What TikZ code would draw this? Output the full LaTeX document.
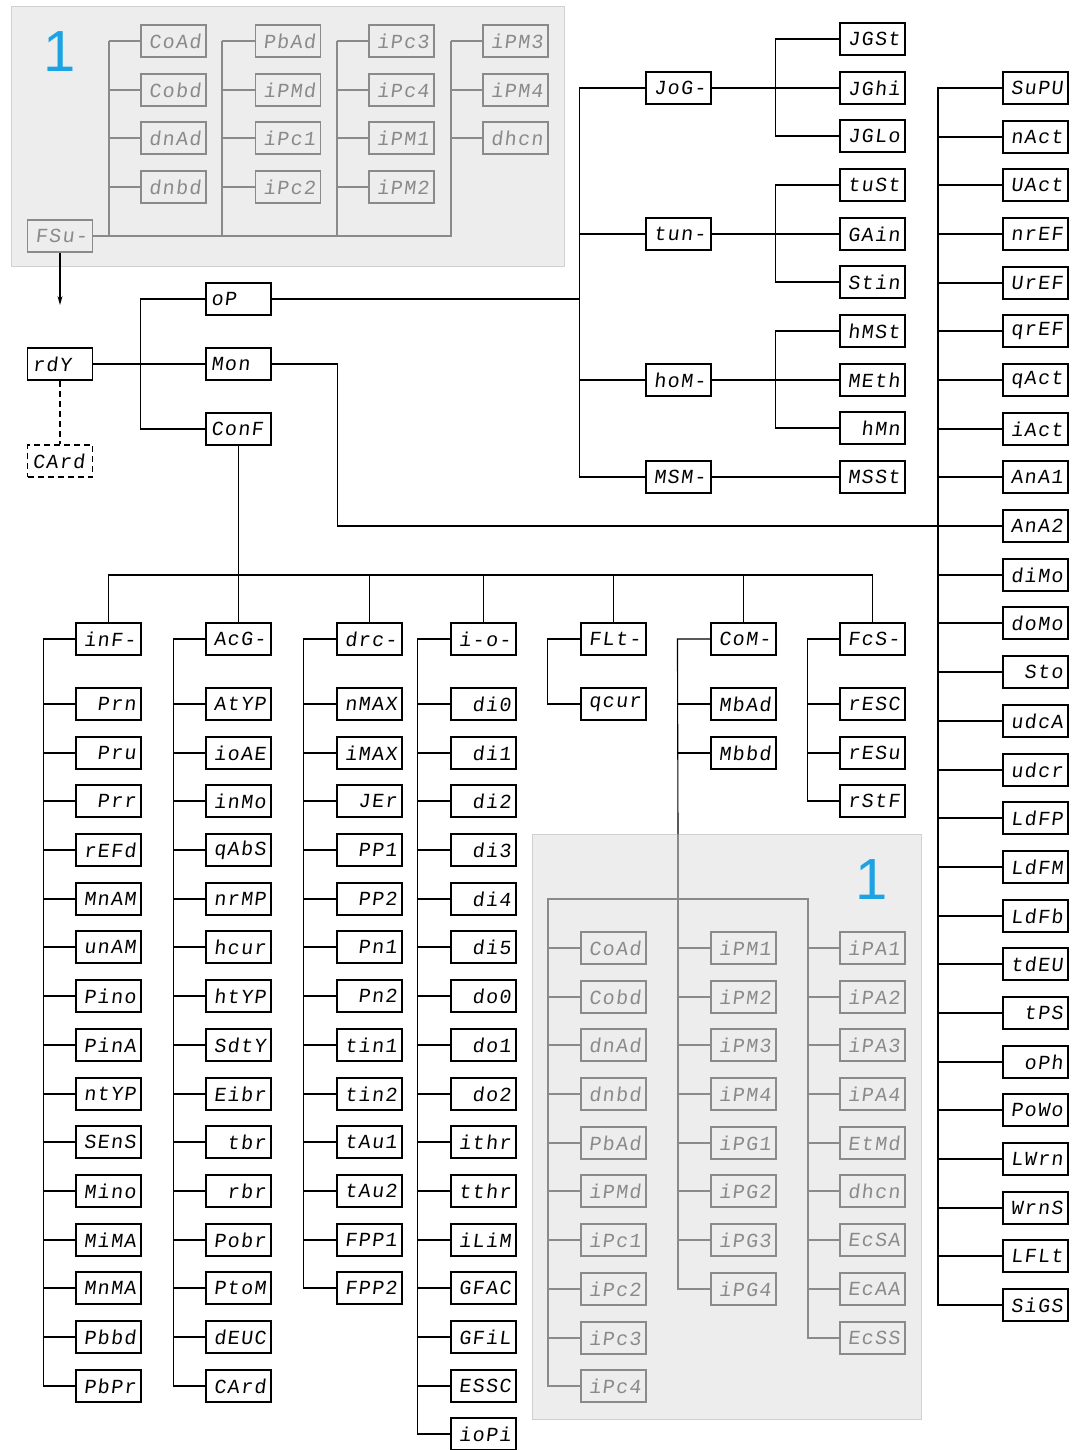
\documentclass[tikz,border=0pt]{standalone}
\usepackage{fontspec}
\newfontfamily\segfont{Liberation Mono}[FakeSlant=0.12,LetterSpace=7]
\newfontfamily\onefont{Liberation Sans}
\usetikzlibrary{arrows.meta}
\definecolor{bgfill}{HTML}{EDEDED}
\definecolor{bgline}{HTML}{D0D0D0}
\definecolor{gline}{HTML}{8A8A8A}
\definecolor{blueone}{HTML}{1BA3E3}
\tikzset{
  seg/.style={draw=black, line width=1.1pt, fill=white, minimum width=65pt, minimum height=32pt,
    inner sep=0pt, text width=55pt, align=right, font=\segfont\fontsize{20}{20}\selectfont},
  segl/.style={seg, align=left},
  gseg/.style={seg, draw=gline, text=gline, fill=bgfill},
  wire/.style={line width=1.1pt, draw=black},
  gwire/.style={line width=1.1pt, draw=gline},
  bigone/.style={text=blueone, inner sep=0pt, font=\onefont\fontsize{58}{58}\selectfont},
  panel/.style={fill=bgfill, draw=bgline, line width=1pt},
  dashline/.style={dash pattern=on 6pt off 4pt}
}
\begin{document}
\begin{tikzpicture}[x=1pt,y=-1pt]
\useasboundingbox (0,0) rectangle (1077,1450);
% grey panels
\path[panel] (11,7) rectangle (564,266);
\path[panel] (532,834) rectangle (921,1419);
\node[bigone] (oneA) at (60,52) {1};
\node[bigone] (oneB) at (872,880) {1};

% ---------- top grey panel ----------
\node[gseg] (fsu) at (60,236) {FSu-};
\coordinate (busA) at (109,236);
\coordinate (busB) at (222,236);
\coordinate (busC) at (337,236);
\coordinate (busD) at (451,236);
\foreach \t [count=\i] in {CoAd,Cobd,dnAd,dnbd}{
  \node[gseg] (ta\i) at (173.5,{round(41+48.6*(\i-1))}) {\t};
  \draw[gwire] (ta\i.west) -- (ta\i.west -| busA);
}
\foreach \t [count=\i] in {PbAd,iPMd,iPc1,iPc2}{
  \node[gseg] (tb\i) at (288,{round(41+48.6*(\i-1))}) {\t};
  \draw[gwire] (tb\i.west) -- (tb\i.west -| busB);
}
\foreach \t [count=\i] in {iPc3,iPc4,iPM1,iPM2}{
  \node[gseg] (tc\i) at (401.5,{round(41+48.6*(\i-1))}) {\t};
  \draw[gwire] (tc\i.west) -- (tc\i.west -| busC);
}
\foreach \t [count=\i] in {iPM3,iPM4,dhcn}{
  \node[gseg] (td\i) at (515.5,{round(41+48.6*(\i-1))}) {\t};
  \draw[gwire] (td\i.west) -- (td\i.west -| busD);
}
\draw[gwire] (fsu.east) -- (busD) -- (td1.west -| busD);
\draw[gwire] (busA) -- (ta1.west -| busA);
\draw[gwire] (busB) -- (tb1.west -| busB);
\draw[gwire] (busC) -- (tc1.west -| busC);

% ---------- rdY and main menu ----------
\node[segl] (rdy) at (60,364) {rdY};
\coordinate (arrtip) at (60,305);
\draw[wire,-{Stealth[length=9pt,width=5pt]}] (fsu.south) -- (arrtip);
\node[segl,dashline] (card) at (60,461) {CArd};
\draw[wire,dashline] (rdy.south) -- (card.north);

\node[segl] (op) at (238.5,299) {oP};
\node[segl] (mon) at (238.5,364) {Mon};
\node[segl] (conf) at (238.5,429) {ConF};
\draw[wire] (rdy.east) -- (mon.west);
\draw[wire] (op.west) -- ++(-65,0) |- (conf.west);

% ---------- oP submenu ----------
\node[seg] (jog) at (678.5,88) {JoG-};
\node[seg] (tun) at (678.5,234) {tun-};
\node[seg] (hom) at (678.5,380) {hoM-};
\node[seg] (msm) at (678.5,477) {MSM-};
\coordinate (opbus) at (580,299);
\draw[wire] (op.east) -- (opbus);
\draw[wire] (jog.west) -- ++(-66,0) |- (msm.west);
\draw[wire] (tun.west) -- (tun.west -| opbus);
\draw[wire] (hom.west) -- (hom.west -| opbus);
\foreach \t [count=\i] in {JGSt,JGhi,JGLo}{
  \node[seg] (jg\i) at (872.5,{round(39+48.68*(\i-1))}) {\t};
}
\foreach \t [count=\i] in {tuSt,GAin,Stin}{
  \node[seg] (tu\i) at (872.5,{round(39+48.68*(\i+2))}) {\t};
}
\foreach \t [count=\i] in {hMSt,MEth,hMn}{
  \node[seg] (hm\i) at (872.5,{round(39+48.68*(\i+5))}) {\t};
}
\draw[wire] (jog.east) -- (jg2.west);
\draw[wire] (jg1.west) -- ++(-64,0) |- (jg3.west);
\draw[wire] (tun.east) -- (tu2.west);
\draw[wire] (tu1.west) -- ++(-64,0) |- (tu3.west);
\draw[wire] (hom.east) -- (hm2.west);
\draw[wire] (hm1.west) -- ++(-64,0) |- (hm3.west);
\node[seg] (mss) at (872.5,477) {MSSt};
\draw[wire] (msm.east) -- (mss.west);

% ---------- Mon submenu (right column) ----------
\foreach \t [count=\i] in {SuPU,nAct,UAct,nrEF,UrEF,qrEF,qAct,iAct,AnA1,AnA2,diMo,doMo,Sto,udcA,udcr,LdFP,LdFM,LdFb,tdEU,tPS,oPh,PoWo,LWrn,WrnS,LFLt,SiGS}{
  \node[seg] (r\i) at (1035.5,{round(88+48.68*(\i-1))}) {\t};
}
\coordinate (rbus) at (938,88);
\draw[wire] (r1.west) -- (rbus) |- (r26.west);
\foreach \i in {2,...,25}{
  \draw[wire] (r\i.west) -- (r\i.west -| rbus);
}
\draw[wire] (mon.east) -- ++(66,0) |- (r10.west);

% ---------- ConF submenu ----------
\coordinate (cbus) at (238.5,575);
\draw[wire] (conf.south) -- (cbus);
\foreach \n/\t/\x in {inf/inF-/108.5, acg/AcG-/238.5, drc/drc-/369.5, io/i-o-/483.5, flt/FLt-/613.5, com/CoM-/743.5, fcs/FcS-/872.5}{
  \node[seg] (\n) at (\x,639) {\t};
}
\draw[wire] (inf.north) |- (cbus) -| (fcs.north);
\foreach \n in {acg,drc,io,flt,com}{
  \draw[wire] (\n.north) -- (\n.north |- cbus);
}
\foreach \t [count=\i] in {Prn,Pru,Prr,rEFd,MnAM,unAM,Pino,PinA,ntYP,SEnS,Mino,MiMA,MnMA,Pbbd,PbPr}{
  \node[seg] (inf\i) at (108.5,{round(704+48.7*(\i-1))}) {\t};
}
\draw[wire] (inf.west) -- ++(-32,0) |- (inf15.west);
\foreach \i in {1,...,14}{ \draw[wire] (inf\i.west) -- ++(-32,0); }

\foreach \t [count=\i] in {AtYP,ioAE,inMo,qAbS,nrMP,hcur,htYP,SdtY,Eibr,tbr,rbr,Pobr,PtoM,dEUC,CArd}{
  \node[seg] (acg\i) at (238.5,{round(704+48.7*(\i-1))}) {\t};
}
\draw[wire] (acg.west) -- ++(-32,0) |- (acg15.west);
\foreach \i in {1,...,14}{ \draw[wire] (acg\i.west) -- ++(-32,0); }

\foreach \t [count=\i] in {nMAX,iMAX,JEr,PP1,PP2,Pn1,Pn2,tin1,tin2,tAu1,tAu2,FPP1,FPP2}{
  \node[seg] (drc\i) at (369.5,{round(704+48.7*(\i-1))}) {\t};
}
\draw[wire] (drc.west) -- ++(-33,0) |- (drc13.west);
\foreach \i in {1,...,12}{ \draw[wire] (drc\i.west) -- ++(-33,0); }

\foreach \t [count=\i] in {di0,di1,di2,di3,di4,di5,do0,do1,do2,ithr,tthr,iLiM,GFAC,GFiL,ESSC,ioPi}{
  \node[seg] (io\i) at (483.5,{round(704+48.7*(\i-1))}) {\t};
}
\draw[wire] (io.west) -- ++(-33,0) |- (io16.west);
\foreach \i in {1,...,15}{ \draw[wire] (io\i.west) -- ++(-33,0); }

\node[seg] (flt1) at (613.5,704) {qcur};
\draw[wire] (flt.west) -- ++(-33,0) |- (flt1.west);

\foreach \t [count=\i] in {MbAd,Mbbd}{
  \node[seg] (com\i) at (743.5,{round(704+48.7*(\i-1))}) {\t};
  \draw[wire] (com\i.west) -- ++(-33,0);
}
\foreach \t [count=\i] in {rESC,rESu,rStF}{
  \node[seg] (fcs\i) at (872.5,{round(704+48.7*(\i-1))}) {\t};
}
\draw[wire] (fcs.west) -- ++(-32,0) |- (fcs3.west);
\foreach \i in {1,2}{ \draw[wire] (fcs\i.west) -- ++(-32,0); }

% ---------- bottom grey panel ----------
\coordinate (gtop) at (678,834);
\coordinate (gbus) at (678,899);
\coordinate (gbl) at (548,899);
\coordinate (gbr) at (808,899);
\draw[wire] (com.west) -- ++(-33,0) -- (gtop);
\foreach \t [count=\i] in {CoAd,Cobd,dnAd,dnbd,PbAd,iPMd,iPc1,iPc2,iPc3,iPc4}{
  \node[gseg] (ga\i) at (613.5,{round(948+48.7*(\i-1))}) {\t};
}
\foreach \t [count=\i] in {iPM1,iPM2,iPM3,iPM4,iPG1,iPG2,iPG3,iPG4}{
  \node[gseg] (gb\i) at (743.5,{round(948+48.7*(\i-1))}) {\t};
}
\foreach \t [count=\i] in {iPA1,iPA2,iPA3,iPA4,EtMd,dhcn,EcSA,EcAA,EcSS}{
  \node[gseg] (gc\i) at (872.5,{round(948+48.7*(\i-1))}) {\t};
}
\draw[gwire] (gtop) -- (gbus) |- (gb8.west);
\draw[gwire] (ga10.west) -| (gbl) -- (gbr) |- (gc9.west);
\foreach \i in {1,...,9}{ \draw[gwire] (ga\i.west) -- (ga\i.west -| gbl); }
\foreach \i in {1,...,7}{ \draw[gwire] (gb\i.west) -- (gb\i.west -| gbus); }
\foreach \i in {1,...,8}{ \draw[gwire] (gc\i.west) -- (gc\i.west -| gbr); }
\end{tikzpicture}
\end{document}
